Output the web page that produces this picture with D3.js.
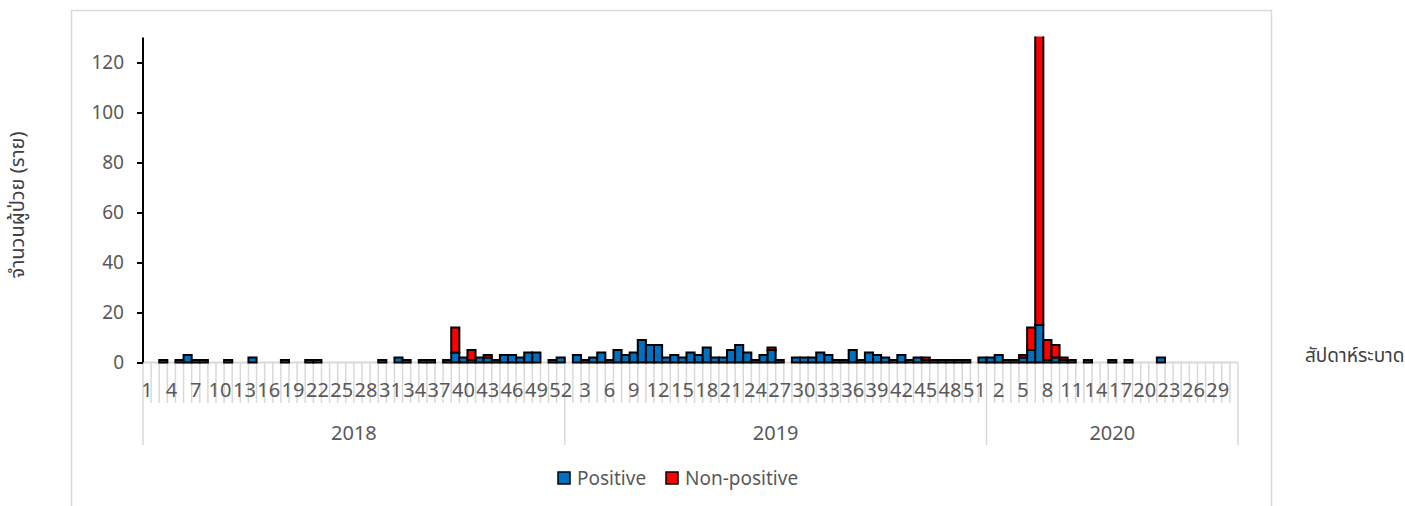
<!DOCTYPE html>
<html>
<head>
<meta charset="utf-8">
<script src="https://cdn.jsdelivr.net/npm/d3@7"></script>
<style>
  body { margin: 0; background: #fff; }
  text { font-family: "Noto Sans", "Noto Sans Thai", "Open Sans", sans-serif; }
</style>
</head>
<body>
<div id="chart-area"></div>
<script>
// data, week by week
const years = ["2018", "2019", "2020"];
const weeksInYear = [52, 52, 31];

const positive2018 = [0,0,1,0,1,3,1,1,0,0, 1,0,0,2,0,0,0,1,0,0, 1,1,0,0,0,0,0,0,0,1,
                      0,2,1,0,1,1,0,1,4,2, 1,2,2,1,3,3,2,4,4,0, 1,2];
const nonPositive2018 = [0,0,0,0,0,0,0,0,0,0, 0,0,0,0,0,0,0,0,0,0, 0,0,0,0,0,0,0,0,0,0,
                         0,0,0,0,0,0,0,0,10,0, 4,0,1,0,0,0,0,0,0,0, 0,0];
const positive2019 = [0,3,1,2,4,1,5,3,4,9, 7,7,2,3,2,4,3,6,2,2, 5,7,4,1,3,5,1,0,2,2,
                      2,4,3,1,1,5,1,4,3,2, 1,3,1,2,1,1,1,1,1,1, 0,2];
const nonPositive2019 = [0,0,0,0,0,0,0,0,0,0, 0,0,0,0,0,0,0,0,0,0, 0,0,0,0,0,1,0,0,0,0,
                         0,0,0,0,0,0,0,0,0,0, 0,0,0,0,1,0,0,0,0,0, 0,0];
const positive2020 = [2,3,1,1,2,5,15,1,2,1, 1,0,1,0,0,1,0,1,0,0, 0,2,0,0,0,0,0,0,0,0, 0];
const nonPositive2020 = [0,0,0,0,1,9,118,8,5,1, 0,0,0,0,0,0,0,0,0,0, 0,0,0,0,0,0,0,0,0,0, 0];

const yTicks = [0, 20, 40, 60, 80, 100, 120];
const yMax = 130;

const positive = [positive2018, positive2019, positive2020];
const nonPositive = [nonPositive2018, nonPositive2019, nonPositive2020];

// one row per week
const rows = [];
years.forEach((yr, yi) => {
  for (let w = 1; w <= weeksInYear[yi]; w++) {
    rows.push({ key: yr + "-" + w, year: yr, week: w,
                pos: positive[yi][w - 1], non: nonPositive[yi][w - 1] });
  }
});

const W = 1405, H = 506;
const LEFT = 143, RIGHT = 1238, TOP = 37.5, BASE = 362.5;
const BLUE = "#0070C0", RED = "#FF0000", GREY_TXT = "#595959", GREY_LN = "#D9D9D9";

const svg = d3.select("#chart-area").append("svg")
  .attr("width", W)
  .attr("height", H)

// chart frame
svg.append("rect")
  .attr("x", 71.5).attr("y", 10.5)
  .attr("width", 1200).attr("height", 520)
  .attr("fill", "none")
  .attr("stroke", GREY_LN)
  .attr("stroke-width", 1.5)

const x = d3.scaleBand()
  .domain(rows.map(d => d.key))
  .range([LEFT, RIGHT])
  .padding(0)

const y = d3.scaleLinear()
  .domain([0, yMax])
  .range([BASE, TOP])

// x axis: grey base line and category separators
svg.append("line")
  .attr("x1", LEFT).attr("x2", RIGHT)
  .attr("y1", BASE).attr("y2", BASE)
  .attr("stroke", GREY_LN).attr("stroke-width", 2)

const bounds = rows.map(d => x(d.key)).concat([RIGHT])
const yearStarts = new Set()
let acc = 0
weeksInYear.forEach(n => { yearStarts.add(acc); acc += n })
yearStarts.add(acc)

svg.append("g").selectAll("line").data(bounds).enter().append("line")
  .attr("x1", d => d).attr("x2", d => d)
  .attr("y1", BASE)
  .attr("y2", (d, i) => yearStarts.has(i) ? 445 : 403)
  .attr("stroke", GREY_LN)
  .attr("stroke-width", 1.5)

// week labels, every third category
const xAxisCall = d3.axisBottom(x)
  .tickValues(rows.filter((d, i) => i % 3 === 0).map(d => d.key))
  .tickFormat(k => k.split("-")[1])
  .tickSize(0)
  .tickPadding(0)

const xg = svg.append("g")
  .attr("transform", `translate(0, ${BASE})`)
  .call(xAxisCall)
xg.select(".domain").remove()
xg.selectAll("text")
  .attr("dy", null)
  .attr("y", 34)
  .attr("font-size", "20px")
  .attr("font-family", null)
  .attr("fill", GREY_TXT)

// year labels
acc = 0
years.forEach((yr, yi) => {
  const first = rows[acc].key, last = rows[acc + weeksInYear[yi] - 1].key
  const cx = (x(first) + x(last) + x.bandwidth()) / 2
  svg.append("text")
    .attr("x", cx).attr("y", 440)
    .attr("text-anchor", "middle")
    .attr("font-size", "20px")
    .attr("fill", GREY_TXT)
    .text(yr)
  acc += weeksInYear[yi]
})

// bars, clipped to the plot top
svg.append("clipPath").attr("id", "plotclip")
  .append("rect")
  .attr("x", LEFT - 5).attr("y", TOP - 1)
  .attr("width", RIGHT - LEFT + 10).attr("height", BASE - TOP + 10)

const bars = svg.append("g").attr("clip-path", "url(#plotclip)")

bars.selectAll("rect.pos").data(rows.filter(d => d.pos > 0)).enter().append("rect")
  .attr("class", "pos")
  .attr("x", d => x(d.key))
  .attr("y", d => y(d.pos))
  .attr("width", x.bandwidth())
  .attr("height", d => y(0) - y(d.pos))
  .attr("fill", BLUE)
  .attr("stroke", "#000")
  .attr("stroke-width", 2)

bars.selectAll("rect.non").data(rows.filter(d => d.non > 0)).enter().append("rect")
  .attr("class", "non")
  .attr("x", d => x(d.key))
  .attr("y", d => y(d.pos + d.non))
  .attr("width", x.bandwidth())
  .attr("height", d => y(d.pos) - y(d.pos + d.non))
  .attr("fill", RED)
  .attr("stroke", "#000")
  .attr("stroke-width", 2)

// y axis
const yAxisCall = d3.axisLeft(y)
  .tickValues(yTicks)
  .tickSize(6)
  .tickPadding(13)

const yg = svg.append("g")
  .attr("transform", `translate(${LEFT}, 0)`)
  .call(yAxisCall)
yg.select(".domain")
  .attr("d", `M0,${TOP}V${BASE}`)
  .attr("stroke", "#000").attr("stroke-width", 2)
yg.selectAll(".tick line").attr("stroke", "#000").attr("stroke-width", 2)
yg.selectAll("text")
  .attr("font-size", "19px")
  .attr("font-family", null)
  .attr("fill", GREY_TXT)

// axis titles
svg.append("text")
  .attr("transform", "translate(24, 205) rotate(-90)")
  .attr("text-anchor", "middle")
  .attr("font-size", "20px")
  .attr("fill", "#404040")
  .text("จำนวนผู้ป่วย (ราย)")

svg.append("text")
  .attr("x", 1305).attr("y", 362)
  .attr("font-size", "19px")
  .attr("fill", "#404040")
  .text("สัปดาห์ระบาด")

// legend
const legend = [{ name: "Positive", color: BLUE, x: 558 }, { name: "Non-positive", color: RED, x: 666 }]
const lg = svg.append("g").selectAll("g").data(legend).enter().append("g")
  .attr("transform", d => `translate(${d.x}, 472)`)
lg.append("rect")
  .attr("width", 12).attr("height", 12)
  .attr("fill", d => d.color)
  .attr("stroke", "#000").attr("stroke-width", 1.5)
lg.append("text")
  .attr("x", 19).attr("y", 13)
  .attr("font-size", "19px")
  .attr("fill", GREY_TXT)
  .text(d => d.name)
</script>
</body>
</html>
